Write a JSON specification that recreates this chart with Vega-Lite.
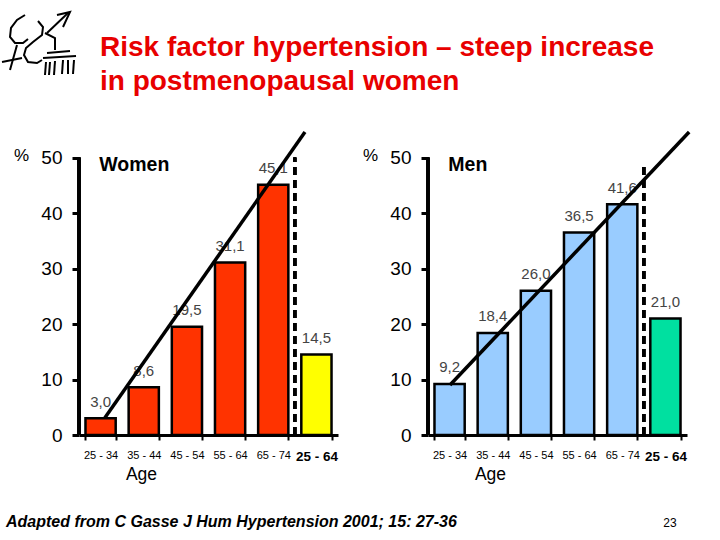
{
"$schema":"https://vega.github.io/schema/vega-lite/v6.json",
"padding":{"left":-2,"top":0,"right":0,"bottom":0},
"autosize":{"type":"pad"},
"background":"white",
"bounds":"flush",
"config":{"view":{"stroke":null},"font":"Liberation Sans","concat":{"spacing":0}},
"datasets":{
"women":[{"age":"25 - 34","pct":3.0,"label":"3,0"},{"age":"35 - 44","pct":8.6,"label":"8,6"},{"age":"45 - 54","pct":19.5,"label":"19,5"},{"age":"55 - 64","pct":31.1,"label":"31,1"},{"age":"65 - 74","pct":45.1,"label":"45,1"},{"age":"25 - 64 ","pct":14.5,"label":"14,5"}],
"men":[{"age":"25 - 34","pct":9.2,"label":"9,2"},{"age":"35 - 44","pct":18.4,"label":"18,4"},{"age":"45 - 54","pct":26.0,"label":"26,0"},{"age":"55 - 64","pct":36.5,"label":"36,5"},{"age":"65 - 74","pct":41.6,"label":"41,6"},{"age":"25 - 64 ","pct":21.0,"label":"21,0"}],
"logo":[
{"s":1,"i":0,"x":25,"y":15},{"s":1,"i":1,"x":17,"y":20},{"s":1,"i":2,"x":11,"y":28},{"s":1,"i":3,"x":10,"y":37},{"s":1,"i":4,"x":15,"y":43},{"s":1,"i":5,"x":23,"y":43},{"s":1,"i":6,"x":28,"y":39},
{"s":2,"i":0,"x":17,"y":45},{"s":2,"i":1,"x":10,"y":70},
{"s":3,"i":0,"x":2,"y":62},{"s":3,"i":1,"x":22,"y":58},
{"s":4,"i":0,"x":38,"y":21},{"s":4,"i":1,"x":43,"y":27},{"s":4,"i":2,"x":42,"y":35},{"s":4,"i":3,"x":33,"y":42},{"s":4,"i":4,"x":26,"y":48},{"s":4,"i":5,"x":24,"y":55},{"s":4,"i":6,"x":28,"y":62},{"s":4,"i":7,"x":37,"y":63},{"s":4,"i":8,"x":42,"y":60},
{"s":5,"i":0,"x":47,"y":33},{"s":5,"i":1,"x":68,"y":13},
{"s":6,"i":0,"x":57,"y":15},{"s":6,"i":1,"x":70,"y":12},{"s":6,"i":2,"x":63,"y":27},
{"s":7,"i":0,"x":45,"y":33},{"s":7,"i":1,"x":55,"y":38},{"s":7,"i":2,"x":55,"y":50},
{"s":8,"i":0,"x":47,"y":53},{"s":8,"i":1,"x":70,"y":51},
{"s":9,"i":0,"x":43,"y":58},{"s":9,"i":1,"x":76,"y":56},
{"s":10,"i":0,"x":46,"y":62},{"s":10,"i":1,"x":45,"y":75},
{"s":11,"i":0,"x":50,"y":62},{"s":11,"i":1,"x":49,"y":75},
{"s":12,"i":0,"x":55,"y":61},{"s":12,"i":1,"x":54,"y":75},
{"s":13,"i":0,"x":63,"y":60},{"s":13,"i":1,"x":62,"y":74},
{"s":14,"i":0,"x":68,"y":60},{"s":14,"i":1,"x":68,"y":74},
{"s":15,"i":0,"x":74,"y":60},{"s":15,"i":1,"x":73,"y":74}
],
"titleLines":[{"t":"Risk factor hypertension – steep increase","line":56},{"t":"in postmenopausal women","line":90}],
"trendW":[{"p":0.6,"v":3.1},{"p":5.235,"v":54.6}],
"trendM":[{"p":0.51,"v":9.0},{"p":6.05,"v":54.6}]
},
"vconcat":[
{"width":641,"height":132,
"layer":[
{"data":{"name":"logo"},"mark":{"type":"line","color":"black","strokeWidth":2,"clip":false},
"encoding":{"x":{"field":"x","type":"quantitative","scale":{"domain":[79,720],"nice":false,"zero":false},"axis":null},"y":{"field":"y","type":"quantitative","scale":{"domain":[132,0],"nice":false,"zero":false},"axis":null},"detail":{"field":"s"},"order":{"field":"i"}}},
{"data":{"name":"titleLines"},"mark":{"type":"text","align":"left","baseline":"alphabetic","fontSize":28,"fontWeight":"bold","color":"#E80000","font":"Liberation Sans"},
"encoding":{"x":{"datum":100,"type":"quantitative","scale":{"domain":[79,720],"nice":false,"zero":false},"axis":null},"y":{"field":"line","type":"quantitative","scale":{"domain":[132,0],"nice":false,"zero":false},"axis":null},"text":{"field":"t"}}}
],
"resolve":{"scale":{"x":"independent","y":"independent"}}},
{"hconcat":[
{"width":259,"height":303,"data":{"name":"women"},
"layer":[
{"mark":{"type":"bar","stroke":"black","strokeWidth":2.5},
"encoding":{"x":{"field":"age","type":"nominal","sort":null,"scale":{"paddingInner":0.3,"paddingOuter":0.15},
"axis":{"title":"Age","titleFontSize":17.5,"titleFontWeight":"normal","titleX":62,"titleY":39,"titleBaseline":"middle","labelAngle":0,"labelPadding":9,"labelColor":"black","labelFontSize":{"condition":{"test":"datum.value=='25 - 64 '","value":13.5},"value":11},"labelFontWeight":{"condition":{"test":"datum.value=='25 - 64 '","value":"bold"},"value":"normal"},"tickBand":"extent","tickSize":5,"tickWidth":2,"tickColor":"black","domainColor":"black","domainWidth":3}},
"y":{"field":"pct","type":"quantitative","scale":{"domain":[0,54.6],"nice":false},
"axis":{"values":[0,10,20,30,40,50],"grid":false,"domain":false,"title":"%","titleAngle":0,"titleFontSize":17,"titleFontWeight":"normal","titleX":-58,"titleY":23,"titleBaseline":"middle","labelFontSize":19,"labelColor":"black","labelPadding":10,"tickSize":7,"tickWidth":3,"tickColor":"black"}},
"color":{"field":"age","type":"nominal","sort":null,"legend":null,"scale":{"range":["#FF3300","#FF3300","#FF3300","#FF3300","#FF3300","#FFFF00"]}}}},
{"mark":{"type":"text","baseline":"alphabetic","dy":-11.5,"fontSize":15,"color":"#444444"},
"encoding":{"x":{"field":"age","type":"nominal","sort":null,"scale":{"paddingInner":0.3,"paddingOuter":0.15},"axis":null},"y":{"field":"pct","type":"quantitative"},"text":{"field":"label"}}},
{"mark":{"type":"rule","strokeWidth":3,"strokeDash":[8,5],"color":"black"},
"encoding":{"x":{"datum":5,"type":"quantitative","scale":{"domain":[0,6]},"axis":null},"y":{"datum":0},"y2":{"datum":50}}},
{"mark":{"type":"rule","strokeWidth":3,"color":"black"},
"encoding":{"x":{"datum":0,"type":"quantitative","scale":{"domain":[0,6]},"axis":null},"y":{"datum":0},"y2":{"datum":50}}},
{"data":{"name":"trendW"},"mark":{"type":"line","strokeWidth":3.5,"color":"black","clip":false},
"encoding":{"x":{"field":"p","type":"quantitative","scale":{"domain":[0,6]},"axis":null},"y":{"field":"v","type":"quantitative"}}},
{"mark":{"type":"text","align":"left","baseline":"middle","fontSize":19.5,"fontWeight":"bold","color":"black"},
"transform":[{"filter":"datum.age=='25 - 34'"}],
"encoding":{"x":{"datum":0.47,"type":"quantitative","scale":{"domain":[0,6]},"axis":null},"y":{"datum":48.6},"text":{"value":"Women"}}}
],
"resolve":{"scale":{"x":"independent","color":"independent"}}},
{"width":259,"height":303,"data":{"name":"men"},
"layer":[
{"mark":{"type":"bar","stroke":"black","strokeWidth":2.5},
"encoding":{"x":{"field":"age","type":"nominal","sort":null,"scale":{"paddingInner":0.3,"paddingOuter":0.15},
"axis":{"title":"Age","titleFontSize":17.5,"titleFontWeight":"normal","titleX":62,"titleY":39,"titleBaseline":"middle","labelAngle":0,"labelPadding":9,"labelColor":"black","labelFontSize":{"condition":{"test":"datum.value=='25 - 64 '","value":13.5},"value":11},"labelFontWeight":{"condition":{"test":"datum.value=='25 - 64 '","value":"bold"},"value":"normal"},"tickBand":"extent","tickSize":5,"tickWidth":2,"tickColor":"black","domainColor":"black","domainWidth":3}},
"y":{"field":"pct","type":"quantitative","scale":{"domain":[0,54.6],"nice":false},
"axis":{"values":[0,10,20,30,40,50],"grid":false,"domain":false,"title":"%","titleAngle":0,"titleFontSize":17,"titleFontWeight":"normal","titleX":-58,"titleY":23,"titleBaseline":"middle","labelFontSize":19,"labelColor":"black","labelPadding":10,"tickSize":7,"tickWidth":3,"tickColor":"black"}},
"color":{"field":"age","type":"nominal","sort":null,"legend":null,"scale":{"range":["#99CCFF","#99CCFF","#99CCFF","#99CCFF","#99CCFF","#00E0A0"]}}}},
{"mark":{"type":"text","baseline":"alphabetic","dy":-11.5,"fontSize":15,"color":"#444444"},
"encoding":{"x":{"field":"age","type":"nominal","sort":null,"scale":{"paddingInner":0.3,"paddingOuter":0.15},"axis":null},"y":{"field":"pct","type":"quantitative"},"text":{"field":"label"}}},
{"mark":{"type":"rule","strokeWidth":3,"strokeDash":[8,5],"color":"black"},
"encoding":{"x":{"datum":5,"type":"quantitative","scale":{"domain":[0,6]},"axis":null},"y":{"datum":0},"y2":{"datum":49.2}}},
{"mark":{"type":"rule","strokeWidth":3,"color":"black"},
"encoding":{"x":{"datum":0,"type":"quantitative","scale":{"domain":[0,6]},"axis":null},"y":{"datum":0},"y2":{"datum":50}}},
{"data":{"name":"trendM"},"mark":{"type":"line","strokeWidth":3.5,"color":"black","clip":false},
"encoding":{"x":{"field":"p","type":"quantitative","scale":{"domain":[0,6]},"axis":null},"y":{"field":"v","type":"quantitative"}}},
{"mark":{"type":"text","align":"left","baseline":"middle","fontSize":19.5,"fontWeight":"bold","color":"black"},
"transform":[{"filter":"datum.age=='25 - 34'"}],
"encoding":{"x":{"datum":0.47,"type":"quantitative","scale":{"domain":[0,6]},"axis":null},"y":{"datum":48.6},"text":{"value":"Men"}}}
],
"resolve":{"scale":{"x":"independent","color":"independent"}}}
],"spacing":24},
{"width":641,"height":408,
"data":{"values":[{"t":"Adapted from C Gasse J Hum Hypertension 2001; 15: 27-36"}]},
"layer":[
{"mark":{"type":"text","align":"left","baseline":"middle","fontSize":16,"fontWeight":"bold","fontStyle":"italic","color":"black"},
"encoding":{"x":{"datum":6,"type":"quantitative","scale":{"domain":[79,720],"nice":false,"zero":false},"axis":null},"y":{"datum":522,"type":"quantitative","scale":{"domain":[540,132],"nice":false,"zero":false},"axis":null},"text":{"field":"t"}}},
{"mark":{"type":"text","align":"center","baseline":"middle","fontSize":12,"color":"black"},
"encoding":{"x":{"datum":670,"type":"quantitative","scale":{"domain":[79,720],"nice":false,"zero":false},"axis":null},"y":{"datum":523,"type":"quantitative","scale":{"domain":[540,132],"nice":false,"zero":false},"axis":null},"text":{"value":"23"}}}
],
"resolve":{"scale":{"x":"independent","y":"independent"}}}
]
}
